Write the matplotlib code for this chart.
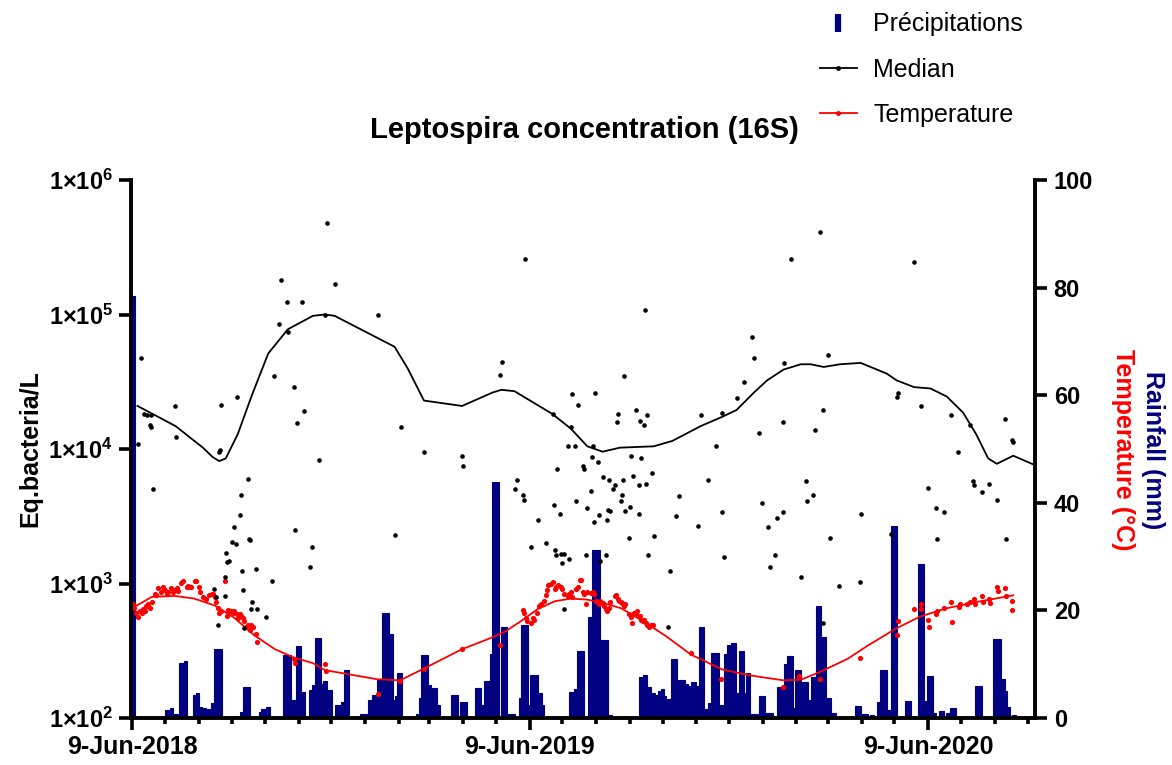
import matplotlib
matplotlib.use("Agg")
import matplotlib.pyplot as plt
import matplotlib.dates as mdates
from matplotlib.lines import Line2D
from matplotlib.ticker import FixedLocator, FuncFormatter, NullLocator
import numpy as np
from datetime import datetime

plt.rcParams['font.family'] = ['Liberation Sans', 'DejaVu Sans']
plt.rcParams['mathtext.fontset'] = 'custom'
plt.rcParams['mathtext.rm'] = 'Liberation Sans'
plt.rcParams['mathtext.bf'] = 'Liberation Sans:bold'

START = datetime(2018, 6, 9)
END_DAY = 829

# --- Leptospira samples (days since 9-Jun-2018, log10 Eq.bacteria/L) ---
sample_day = [8, 5, 11, 14, 17, 16, 17, 19, 39, 40, 82, 96, 80, 81, 106, 100, 99, 94, 92, 95,
              107, 108, 86, 87, 89, 101, 85, 114, 75, 77, 85, 102, 110, 109, 115, 128, 123, 79, 103,
              137, 142, 156, 135, 143, 130, 149, 158, 151, 150, 165, 163,
              179, 186, 177, 226, 247, 172, 268, 303, 304, 241,
              361, 471, 340, 338, 452, 404, 425, 409, 386, 446, 445, 463, 466, 470, 473, 403, 400, 407,
              423, 422, 428, 458, 467, 390, 414, 415, 477, 353, 352, 432, 438, 443, 442, 451, 460, 465,
              472, 359, 360, 421, 450, 408, 387, 418, 449, 457, 453, 437, 439, 393, 429, 465, 424, 436,
              373, 456, 479, 366, 380, 388, 389, 394, 397, 395, 401, 417, 435, 430, 474, 494, 397, 492,
              632, 605, 569, 571, 639, 599, 562, 555, 522, 542, 634, 598, 576, 627, 536, 529, 619, 502,
              625, 620, 578, 542, 598, 592, 499, 520, 584, 641, 590, 586, 543, 614, 649, 634,
              718, 703, 702, 724, 752, 769, 801, 808, 809, 758, 772, 773, 787, 780, 794, 731, 738, 745,
              669, 697, 739, 802, 668]
sample_log = [4.68, 4.04, 4.26, 4.25, 4.25, 4.18, 4.16, 3.70, 4.32, 4.09, 4.33, 4.39, 3.98, 3.99, 3.78,
              3.66, 3.51, 3.42, 3.31, 3.29, 3.33, 3.32, 3.23, 3.16, 3.17, 3.09, 3.05, 3.11, 2.96, 2.90,
              2.91, 2.95, 2.86, 2.81, 2.81, 3.02, 2.75, 2.69, 2.67,
              5.26, 5.09, 5.09, 4.93, 4.87, 4.54, 4.46, 4.28, 4.19, 3.40, 3.27, 3.12,
              5.68, 5.23, 5.00, 5.00, 4.16, 3.92, 3.98, 3.95, 3.87, 3.36,
              5.41, 5.03, 4.65, 4.55, 4.54, 4.41, 4.42, 4.33, 4.26, 4.26, 4.20, 4.29, 4.21, 4.18, 4.25,
              4.16, 4.02, 4.02, 4.02, 3.94, 3.90, 3.95, 3.93, 3.85, 3.87, 3.85, 3.82, 3.77, 3.70, 3.79,
              3.77, 3.73, 3.70, 3.77, 3.80, 3.73, 3.74, 3.66, 3.62, 3.69, 3.66, 3.61, 3.58, 3.56, 3.61,
              3.57, 3.54, 3.55, 3.54, 3.52, 3.51, 3.52, 3.46, 3.47, 3.47, 3.34, 3.35, 3.27, 3.30, 3.25,
              3.21, 3.22, 3.22, 3.15, 3.18, 3.21, 3.21, 3.17, 3.21, 3.09, 2.81, 2.68,
              5.61, 5.41, 4.83, 4.68, 4.70, 4.64, 4.50, 4.38, 4.25, 4.27, 4.29, 4.20, 4.12, 4.14, 4.02,
              3.77, 3.76, 3.65, 3.66, 3.61, 3.60, 3.53, 3.53, 3.49, 3.50, 3.43, 3.42, 3.34, 3.21, 3.12,
              3.20, 3.05, 2.98, 2.71,
              5.39, 4.42, 4.39, 4.32, 4.25, 4.18, 4.22, 4.07, 4.05, 3.98, 3.76, 3.73, 3.74, 3.68, 3.62,
              3.71, 3.56, 3.53, 3.52, 3.37, 3.33, 3.33, 3.01]

# --- Median curve ---
median_day = [5, 40, 65, 74, 80, 86, 97, 110, 125, 143, 166, 177, 186, 241, 253, 268, 303, 331, 339, 351,
              386, 403, 418, 432, 448, 479, 496, 522, 542, 555, 571, 583, 598, 614, 623, 635, 650, 669,
              693, 702, 718, 733, 748, 763, 775, 786, 794, 809, 829]
median_log = [4.32, 4.17, 4.01, 3.94, 3.91, 3.93, 4.11, 4.40, 4.71, 4.89, 4.99, 5.00, 4.99, 4.76, 4.60,
              4.36, 4.32, 4.42, 4.44, 4.43, 4.26, 4.15, 4.02, 3.98, 4.01, 4.02, 4.06, 4.17, 4.24, 4.29,
              4.42, 4.51, 4.59, 4.63, 4.63, 4.61, 4.63, 4.64, 4.56, 4.51, 4.46, 4.45, 4.39, 4.27, 4.11,
              3.93, 3.89, 3.95, 3.88]

# --- Temperature (°C) ---
temp_day = [1, 2, 4, 5, 7, 9, 10, 12, 13, 15, 16, 18, 21, 22, 24, 27, 28, 30, 32, 33, 36, 38, 39, 41, 42,
            45, 47, 50, 51, 53, 54, 58, 59, 61, 62, 65, 68, 71, 73, 74, 76, 77, 79, 80, 82, 85, 87, 88,
            90, 91, 93, 94, 96, 97, 99, 100, 102, 103, 105, 106, 108, 109, 111, 114, 115, 149, 150,
            177, 178, 226, 246, 268, 303, 338,
            359, 360, 362, 363, 366, 368, 369, 372, 374, 375, 378, 380, 381, 382, 385, 386, 388, 389,
            391, 394, 395, 397, 400, 401, 403, 404, 408, 409, 411, 412, 414, 415, 417, 418, 421, 423,
            424, 426, 427, 429, 430, 432, 433, 435, 436, 438, 439, 443, 444, 446, 447, 449, 450, 452,
            453, 456, 458, 459, 461, 463, 464, 466, 467, 469, 470, 472, 473, 475, 476, 478,
            513, 541, 598, 612, 632, 668,
            703, 702, 718, 724, 724, 731, 732, 738, 739, 745, 752, 753, 759, 760, 767, 769, 773, 774,
            780, 781, 787, 788, 794, 795, 801, 802, 808, 808]
temp_val = [21.2, 20.5, 19.6, 18.7, 19.9, 19.6, 20.2, 19.9, 20.9, 21.2, 20.5, 21.5, 23.1, 22.8, 24.1,
            23.4, 24.4, 23.8, 23.1, 23.4, 24.1, 23.4, 23.8, 24.1, 23.6, 25.1, 25.4, 24.4, 24.5, 24.4,
            24.3, 25.4, 25.4, 24.4, 23.4, 22.5, 22.2, 22.8, 23.1, 23.1, 22.5, 21.5, 20.5, 19.6, 19.9,
            25.4, 18.9, 20.0, 19.9, 19.9, 19.6, 19.9, 19.3, 18.6, 19.3, 18.9, 18.5, 18.0, 17.0, 17.3,
            16.3, 17.2, 17.0, 15.7, 14.1, 10.9, 10.3,
            10.0, 8.7, 4.4, 6.8, 9.2, 12.8, 13.6,
            20.0, 19.6, 18.5, 18.0, 17.6, 18.5, 18.3, 19.6, 20.9, 21.2, 21.8, 22.8, 23.8, 24.7, 24.9,
            25.2, 23.9, 24.4, 24.7, 24.3, 23.9, 23.1, 22.6, 23.1, 23.4, 22.5, 23.9, 24.3, 25.6, 25.6,
            23.4, 23.1, 21.2, 23.4, 23.3, 23.4, 23.1, 21.8, 21.5, 21.1, 21.8, 21.3, 20.9, 20.2, 19.9,
            20.5, 21.5, 22.6, 22.8, 22.2, 21.8, 21.5, 21.3, 20.9, 21.1, 19.3, 18.7, 17.6, 19.6, 19.3,
            19.9, 18.9, 18.3, 18.0, 18.3, 17.6, 17.3, 17.0, 17.3, 17.3,
            12.0, 7.2, 5.8, 7.8, 7.2, 11.1,
            18.1, 15.4, 20.2, 21.1, 20.2, 18.3, 17.0, 19.4, 19.9, 20.4, 21.5, 17.8, 20.7, 21.2, 21.1,
            21.5, 22.2, 21.2, 22.6, 21.5, 22.2, 21.4, 24.4, 23.6, 24.2, 22.7, 21.7, 20.1]

temp_fit_day = [0, 18, 39, 57, 76, 94, 112, 131, 149, 166, 177, 225, 246, 268, 303, 326, 342, 357, 372,
                388, 403, 418, 434, 449, 464, 479, 491, 513, 542, 568, 598, 614, 632, 657, 675, 702,
                724, 748, 779, 809]
temp_fit = [20.4, 22.5, 22.7, 22.2, 20.9, 18.6, 15.4, 12.8, 11.2, 10.2, 8.9, 7.2, 7.0, 9.2, 12.8, 14.6,
            16.0, 18.0, 20.2, 21.7, 22.2, 22.0, 21.3, 20.4, 18.6, 16.7, 15.1, 11.8, 9.0, 7.9, 7.0, 7.1,
            8.6, 11.0, 13.4, 16.7, 18.9, 20.4, 21.7, 22.8]

# --- Rainfall (mm): blocks of days with the same daily value ---
rain_start = [0, 31, 35, 38, 44, 48, 56, 59, 62, 65, 69, 73, 76, 94, 100, 102, 117, 119, 123, 139,
              147, 151, 156, 163, 166, 168, 174, 176, 179, 187, 192, 195, 210, 217, 221, 225, 230,
              236, 240, 242, 244, 261, 264, 266, 272, 275, 280, 293, 302, 315, 321, 324, 329, 331,
              339, 346, 356, 358, 364, 366, 373, 377, 402, 406, 409, 419, 423, 431, 437,
              466, 470, 473, 477, 481, 483, 486, 489, 491, 495, 501, 502, 508, 511, 514, 518, 521,
              526, 529, 532, 539, 544, 547, 550, 555, 558, 562, 564, 568, 576, 582, 593, 599, 602,
              607, 609, 615, 621, 624, 628, 633, 638, 642, 664, 670, 678, 684, 687, 694, 697, 710,
              722, 728, 730, 736, 741, 748, 751, 774, 791, 798, 802, 804, 808]
rain_end = [2, 34, 37, 42, 47, 50, 58, 61, 64, 67, 72, 75, 82, 96, 101, 108, 118, 122, 126, 145,
            150, 155, 158, 165, 167, 173, 175, 178, 183, 191, 194, 199, 216, 220, 224, 229, 235,
            239, 241, 243, 247, 263, 265, 271, 274, 279, 282, 299, 307, 320, 323, 328, 330, 336,
            344, 351, 357, 363, 365, 372, 376, 378, 405, 408, 414, 422, 429, 436, 440,
            469, 472, 476, 480, 482, 485, 488, 490, 494, 500, 501, 507, 510, 513, 517, 520, 525,
            528, 531, 538, 543, 546, 549, 554, 557, 561, 563, 567, 574, 581, 588, 598, 601, 606,
            608, 614, 620, 623, 627, 632, 637, 641, 646, 669, 675, 681, 686, 693, 696, 702, 715,
            727, 729, 735, 738, 745, 750, 756, 780, 797, 801, 803, 806, 811]
rain_mm = [78.5, 1.4, 1.8, 0.7, 10.2, 10.6, 4.3, 4.6, 2.1, 1.8, 1.6, 2.7, 12.9, 0.4, 1.2, 5.8, 1.2, 1.6,
           2.0, 11.7, 3.3, 13.3, 4.9, 5.2, 6.1, 14.8, 6.4, 6.8, 5.2, 2.4, 3.0, 9.0, 0.7, 3.3, 4.3,
           7.1, 19.5, 15.7, 3.3, 4.0, 8.3, 0.7, 3.7, 11.7, 6.1, 5.5, 2.4, 4.3, 2.9, 5.5, 2.4, 6.8,
           11.9, 43.8, 17.0, 0.7, 3.7, 17.3, 2.4, 8.0, 4.6, 2.4, 4.9, 5.3, 12.5, 18.8, 31.2, 14.5,
           0.5, 7.7, 8.0, 5.8, 4.7, 4.3, 5.1, 5.3, 4.1, 3.5, 10.9, 2.0, 7.1, 6.3, 6.0, 6.6, 6.0, 16.9,
           1.6, 2.7, 12.0, 2.4, 11.9, 13.6, 14.0, 4.6, 12.5, 4.6, 8.4, 0.7, 4.0, 0.9, 5.7, 10.0,
           11.5, 1.8, 8.9, 6.6, 3.3, 7.7, 20.8, 15.0, 3.7, 0.9, 2.3, 0.8, 0.5, 2.9, 8.9, 1.5, 35.6,
           3.2, 28.6, 3.1, 7.8, 0.9, 1.3, 0.9, 1.8, 6.0, 14.6, 7.3, 5.0, 2.1, 0.5]

NAVY = '#000080'
RED = '#ff0000'

t0 = mdates.date2num(START)
rain = np.zeros(END_DAY + 1)
for s, e, v in zip(rain_start, rain_end, rain_mm):
    rain[s:e + 1] = v
rain_x = t0 + np.arange(END_DAY + 1)

fig = plt.figure(figsize=(11.72, 7.65), dpi=100)
ax = fig.add_axes([131 / 1172, 1 - 718 / 765, (1035 - 131) / 1172, (718 - 180) / 765])
ax2 = ax.twinx()

# rainfall + temperature on the right axis
ax2.bar(rain_x, rain, width=1.0, color=NAVY, edgecolor=NAVY, linewidth=0.8, zorder=1)
ax2.plot(t0 + np.array(temp_fit_day), temp_fit, color=RED, lw=1.3, zorder=3)
ax2.scatter(t0 + np.array(temp_day), temp_val, s=14, color=RED, linewidths=0, zorder=4)
ax2.set_ylim(0, 100)
ax2.set_yticks([0, 20, 40, 60, 80, 100])

# concentration on the left log axis
ax.set_zorder(ax2.get_zorder() + 1)
ax.patch.set_visible(False)
ax.plot(t0 + np.array(median_day), 10 ** np.array(median_log), color='black', lw=1.3, zorder=3)
ax.scatter(t0 + np.array(sample_day), 10 ** np.array(sample_log), s=11, color='black',
           linewidths=0, zorder=4)
ax.set_yscale('log')
ax.set_ylim(1e2, 1e6)
ax.yaxis.set_major_locator(FixedLocator([1e2, 1e3, 1e4, 1e5, 1e6]))
ax.yaxis.set_minor_locator(NullLocator())
ax.yaxis.set_major_formatter(FuncFormatter(
    lambda v, p: r'$\mathbf{1{\times}10^{%d}}$' % round(np.log10(v))))
ax.set_xlim(t0 - 1, t0 + END_DAY)

# date ticks: monthly minor ticks, labels on 9-Jun
ax.xaxis.set_major_locator(mdates.YearLocator(month=6, day=9))
ax.xaxis.set_minor_locator(mdates.MonthLocator(bymonthday=9))
ax.xaxis.set_major_formatter(FuncFormatter(
    lambda v, p: '%d-%s' % (mdates.num2date(v).day, mdates.num2date(v).strftime('%b-%Y'))))

for a in (ax, ax2):
    a.spines['top'].set_visible(False)
    for s in a.spines.values():
        s.set_linewidth(2.8)
ax.spines['right'].set_visible(False)
ax2.spines['left'].set_visible(False)
ax2.spines['bottom'].set_visible(False)

ax.tick_params(axis='y', which='major', length=9, width=2.6, labelsize=17, pad=4)
ax.tick_params(axis='x', which='major', length=8.5, width=2.6, labelsize=18, pad=4)
ax.tick_params(axis='x', which='minor', length=4, width=2.6)
ax2.tick_params(axis='y', length=8.5, width=2.6, labelsize=17, pad=5)
for lab in ax.get_xticklabels() + ax2.get_yticklabels():
    lab.set_fontweight('bold')

fig.text(0.499, 1 - 130 / 765, 'Leptospira concentration (16S)', ha='center', va='center',
         fontsize=21, fontweight='bold')
fig.text(30 / 1172, 1 - 449 / 765, 'Eq.bacteria/L', rotation=90, ha='center', va='center',
         fontsize=18, fontweight='bold')
fig.text(1153 / 1172, 1 - 450 / 765, 'Rainfall (mm)', rotation=270, ha='center', va='center',
         fontsize=18, fontweight='bold', color=NAVY)
fig.text(1123 / 1172, 1 - 450 / 765, 'Temperature (°C)', rotation=270, ha='center', va='center',
         fontsize=18, fontweight='bold', color=RED)

handles = [
    Line2D([], [], ls='none', marker='|', markersize=13, markeredgewidth=4.5, color=NAVY),
    Line2D([], [], color='black', lw=1.3, marker='o', markersize=2.5),
    Line2D([], [], color=RED, lw=1.3, marker='o', markersize=2.5),
]
fig.legend(handles, ['Précipitations', 'Median', 'Temperature'], loc='upper left',
           bbox_to_anchor=(797 / 1172, 1 + 10 / 765), frameon=False, fontsize=18,
           handlelength=1.5, labelspacing=0.85, handletextpad=0.65, numpoints=1)

fig.savefig('out.png', dpi=100)
